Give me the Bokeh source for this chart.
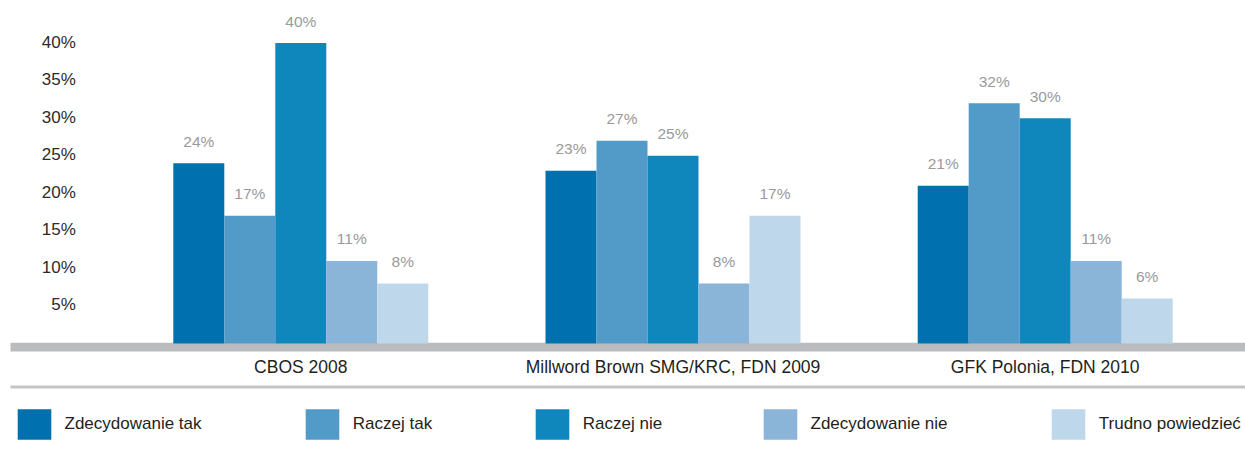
from bokeh.plotting import figure
from bokeh.models import Range1d, BoxAnnotation, Legend, LegendItem
from bokeh.core.properties import value
from bokeh.embed import file_html
from bokeh.resources import INLINE

# ---- data ----
groups = ["CBOS 2008", "Millword Brown SMG/KRC, FDN 2009", "GFK Polonia, FDN 2010"]
series = ["Zdecydowanie tak", "Raczej tak", "Raczej nie", "Zdecydowanie nie", "Trudno powiedzieć"]
zdecydowanie_tak = [24, 23, 21]
raczej_tak = [17, 27, 32]
raczej_nie = [40, 25, 30]
zdecydowanie_nie = [11, 8, 11]
trudno_powiedziec = [8, 17, 6]
y_ticks = [5, 10, 15, 20, 25, 30, 35, 40]
y_tick_labels = ["5%", "10%", "15%", "20%", "25%", "30%", "35%", "40%"]

values = [zdecydowanie_tak, raczej_tak, raczej_nie, zdecydowanie_nie, trudno_powiedziec]
colors = ["#0071ae", "#529ac8", "#0f87bc", "#8ab5d9", "#bfd7eb"]

# ---- layout ----
W, H = 1245, 456
PX_X = 372.2          # px per group unit
PX_Y = 7.51           # px per percent
BASE_Y = 343          # pixel row of 0 %
x_start = -300.3 / PX_X
x_end = x_start + W / PX_X
y_end = BASE_Y / PX_Y
y_start = -(H - BASE_Y) / PX_Y
bar_w = 51.0 / PX_X

FONT_NAME = "Liberation Sans"
FONT = value(FONT_NAME)

p = figure(width=W, height=H, x_range=Range1d(x_start, x_end), y_range=Range1d(y_start, y_end),
           output_backend="svg", toolbar_location=None, min_border=0,
           x_axis_type=None, y_axis_type=None, outline_line_color=None)
p.grid.visible = False

# baseline band and separator line
band_left = x_start + 10 / PX_X
p.add_layout(BoxAnnotation(top=0.09, bottom=-8.0 / PX_Y, left=band_left,
                           fill_color="#bbbcc0", fill_alpha=1, line_alpha=0, level="underlay"))
p.add_layout(BoxAnnotation(top=-42 / PX_Y, bottom=-45 / PX_Y, left=band_left,
                           fill_color="#c3c4c7", fill_alpha=1, line_alpha=0, level="underlay"))

renderers = []
for i, (name, vals, col) in enumerate(zip(series, values, colors)):
    off = (i - 2) * bar_w
    xs = [g + off for g in range(len(groups))]
    r = p.vbar(x=xs, top=vals, bottom=0, width=bar_w, fill_color=col, line_color=None)
    renderers.append(r)
    p.text(x=xs, y=vals, text=[f"{v}%" for v in vals], text_align="center",
           text_baseline="middle", y_offset=-22, text_color="#9a9a9a",
           text_font=FONT, text_font_size="15.5px")

# category labels
p.text(x=list(range(len(groups))), y=[0] * len(groups), text=groups, text_align="center",
       text_baseline="middle", y_offset=23.6, text_color="#231f20",
       text_font=FONT, text_font_size="17.5px")

# y tick labels
p.text(x=[x_start] * len(y_ticks), y=y_ticks, text=y_tick_labels, text_align="right",
       text_baseline="middle", x_offset=75.3, y_offset=-1, text_color="#2b2b2b",
       text_font=FONT, text_font_size="17px")

# legends (one per item to match spacing)
leg_x = [12.5, 300.8, 530.8, 758.5, 1046.8]
for name, r, lx in zip(series, renderers, leg_x):
    leg = Legend(items=[LegendItem(label=name, renderers=[r])], location=(lx, 13),
                 glyph_width=42, glyph_height=38, label_standoff=10, padding=0, margin=0,
                 spacing=0, border_line_alpha=0, background_fill_alpha=0,
                 label_text_font=FONT_NAME, label_text_font_size="17px", label_text_color="#231f20")
    p.add_layout(leg, "center")

open("out.html", "w").write(file_html(p, INLINE))
